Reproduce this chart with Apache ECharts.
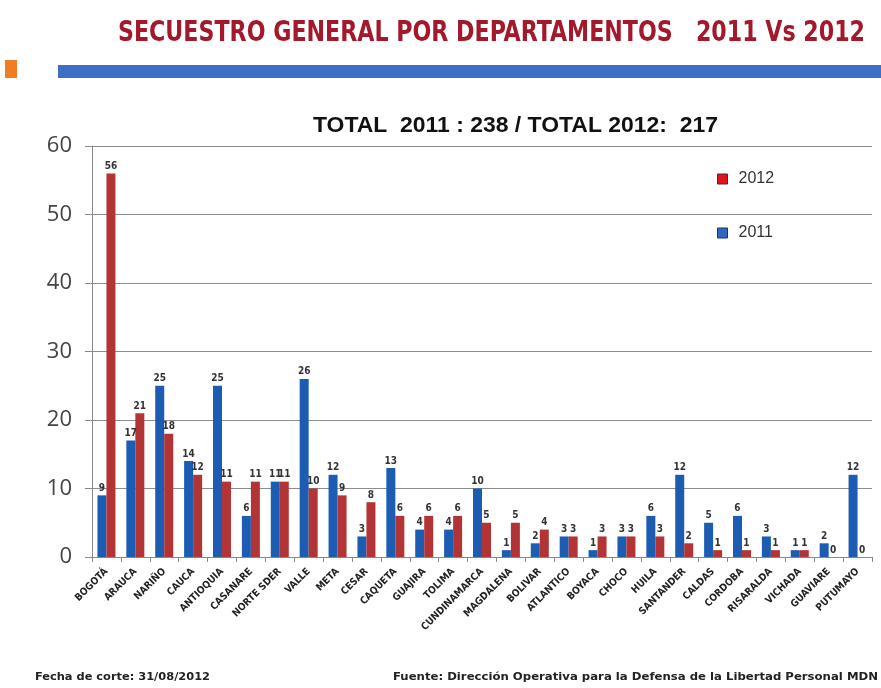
<!DOCTYPE html>
<html><head><meta charset="utf-8">
<script src="https://cdn.jsdelivr.net/npm/echarts@6/dist/echarts.min.js"></script>
<style>html,body{margin:0;padding:0;background:#fff}#c{width:881px;height:688px}</style>
</head><body><div id="c"></div>
<script>
const categories = ['BOGOTÁ','ARAUCA','NARIÑO','CAUCA','ANTIOQUIA','CASANARE','NORTE SDER','VALLE','META','CESAR','CAQUETA','GUAJIRA','TOLIMA','CUNDINAMARCA','MAGDALENA','BOLIVAR','ATLANTICO','BOYACA','CHOCO','HUILA','SANTANDER','CALDAS','CORDOBA','RISARALDA','VICHADA','GUAVIARE','PUTUMAYO'];
const values2011 = [9,17,25,14,25,6,11,26,12,3,13,4,4,10,1,2,3,1,3,6,12,5,6,3,1,2,12];
const values2012 = [56,21,18,12,11,11,11,10,9,8,6,6,6,5,5,4,3,3,3,3,2,1,1,1,1,0,0];
const yTicks = [0,10,20,30,40,50,60];
const titleText = 'SECUESTRO GENERAL POR DEPARTAMENTOS   2011 Vs 2012';
const subtitleText = 'TOTAL  2011 : 238 / TOTAL 2012:  217';
const footLeft = 'Fecha de corte: 31/08/2012';
const footRight = 'Fuente: Dirección Operativa para la Defensa de la Libertad Personal MDN';

const cv = document.createElement('canvas').getContext('2d');
function fitScale(text, font, target){ cv.font = font; return target / cv.measureText(text).width; }

const titleFont = 'DejaVu Sans Condensed';
const titleScale = fitScale(titleText, 'bold 28px "' + titleFont + '"', 747);
const footFont = 'DejaVu Sans Condensed';
const fl = fitScale(footLeft, 'bold 11px "' + footFont + '"', 175);
const fr = fitScale(footRight, 'bold 11px "' + footFont + '"', 485);
const subScale = fitScale(subtitleText, 'bold 22px "Liberation Sans"', 405);

const chart = echarts.init(document.getElementById('c'));
const labelStyle = {show:true, position:'top', distance:2, fontSize:10, fontWeight:'bold', color:'#333', fontFamily:'DejaVu Sans Condensed, Liberation Sans'};
chart.setOption({
  animation:false,
  backgroundColor:'#fff',
  graphic:[
    {type:'rect', shape:{x:58, y:65, width:823, height:13}, style:{fill:'#3e6fc4'}},
    {type:'rect', shape:{x:5, y:60, width:12, height:18}, style:{fill:'#f07d22'}},
    {type:'text', x:118, y:20, scaleX:titleScale, style:{text:titleText, font:'bold 28px "' + titleFont + '"', fill:'#a3182a', shadowColor:'rgba(0,0,0,0.35)', shadowBlur:2, shadowOffsetX:1, shadowOffsetY:1}},
    {type:'text', x:313, y:115, scaleX:subScale, style:{text:subtitleText, font:'bold 22px "Liberation Sans"', fill:'#111'}},
    {type:'text', x:35, y:672, scaleX:fl, style:{text:footLeft, font:'bold 11px "' + footFont + '"', fill:'#222'}},
    {type:'text', x:393, y:672, scaleX:fr, style:{text:footRight, font:'bold 11px "' + footFont + '"', fill:'#222'}}
  ],
  legend:{
    orient:'vertical', left:712, top:166, itemGap:38, itemWidth:10, itemHeight:10, icon:'rect',
    textStyle:{fontSize:16, color:'#333', fontFamily:'Liberation Sans', padding:[0,0,0,6]},
    data:[
      {name:'2012', itemStyle:{color:'#e0141e', borderColor:'#552233', borderWidth:1}},
      {name:'2011', itemStyle:{color:'#2f68c0', borderColor:'#223355', borderWidth:1}}
    ]
  },
  grid:{left:92, right:9, top:146, bottom:131, containLabel:false},
  xAxis:{
    type:'category', data:categories,
    axisLine:{lineStyle:{color:'#888', width:1}},
    axisTick:{show:true, length:5, lineStyle:{color:'#888'}},
    axisLabel:{rotate:45, interval:0, fontSize:10, fontWeight:'bold', color:'#222', margin:13, fontFamily:'DejaVu Sans Condensed, Liberation Sans'}
  },
  yAxis:{
    type:'value', min:yTicks[0], max:yTicks[yTicks.length-1], interval:10,
    axisLine:{show:true, lineStyle:{color:'#888'}},
    axisTick:{show:true, length:7, lineStyle:{color:'#888'}},
    axisLabel:{fontSize:22, color:'#444', margin:20, fontFamily:'Open Sans'},
    splitLine:{lineStyle:{color:'#8c8c8c', width:1}}
  },
  series:[
    {name:'2011', type:'bar', data:values2011, barWidth:9, barGap:'0%', itemStyle:{color:'#1c5db3'}, label:labelStyle},
    {name:'2012', type:'bar', data:values2012, barWidth:9, itemStyle:{color:'#b23434'}, label:labelStyle}
  ]
});
</script></body></html>
